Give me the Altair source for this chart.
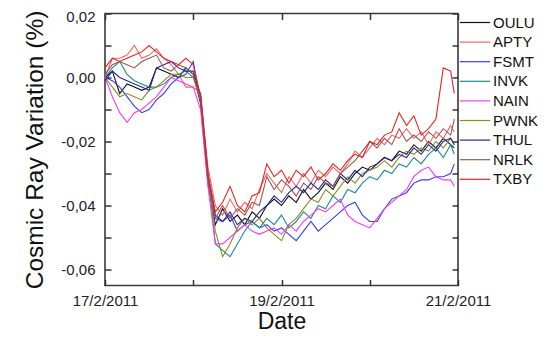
import altair as alt
import pandas as pd

# time of each sample, in hours after 17/2/2011 00:00
hours = [0, 2, 4, 6, 8, 10, 12, 14, 16, 18, 20, 22, 24, 26, 28, 30, 32, 34, 36, 38, 40, 42, 44, 46,
         48, 50, 52, 54, 56, 58, 60, 62, 64, 66, 68, 70, 72, 74, 76, 78, 80, 82, 84, 86, 88, 90, 92, 94, 95]

stations = ["OULU", "APTY", "FSMT", "INVK", "NAIN", "PWNK", "THUL", "NRLK", "TXBY"]
colors = ["#111111", "#f26464", "#3a3af5", "#1f8c8c", "#f53cf5", "#8c8c28", "#25259a", "#9a5656", "#e62424"]

# cosmic ray variation, in thousandths of a percent
OULU = [0, 2, -5, -2, -3, -4, -3, 3, 2, 1, 0, 3, 1, -8, -33, -46, -41, -45, -43, -46, -42, -44, -40, -38,
        -40, -37, -39, -35, -38, -36, -33, -35, -31, -33, -30, -28, -29, -27, -25, -26, -23, -24, -21, -23,
        -20, -22, -19, -21, -22]
APTY = [0, 6, 6, 7, 10, 6, 7, 9, 6, 4, 1, -3, -3, -5, -28, -40, -43, -38, -42, -39, -41, -35, -30, -33,
        -36, -31, -34, -30, -33, -29, -31, -28, -30, -27, -23, -25, -22, -19, -21, -18, -19, -16, -19, -17,
        -21, -17, -19, -15, -17]
FSMT = [0, -1, -3, -6, -9, -11, -10, -7, -5, -2, 0, 1, 5, -8, -32, -44, -45, -43, -48, -46, -45, -47, -46, -48,
        -47, -49, -51, -48, -45, -48, -46, -44, -42, -40, -39, -43, -45, -45, -41, -38, -37, -36, -33, -32,
        -32, -31, -31, -30, -27]
INVK = [0, 3, 5, 1, -1, -2, -3, -3, -2, 0, 1, 2, 0, -5, -30, -52, -54, -56, -52, -48, -45, -47, -44, -46,
        -43, -47, -45, -42, -44, -40, -41, -37, -39, -35, -36, -33, -31, -32, -29, -30, -27, -28, -25, -27,
        -24, -22, -25, -21, -24]
NAIN = [0, -6, -11, -14, -11, -10, -8, -6, -3, 0, -1, -2, -3, -10, -34, -52, -52, -50, -48, -46, -48, -49, -48, -47,
        -49, -46, -48, -45, -43, -41, -42, -40, -38, -43, -45, -46, -47, -44, -41, -39, -37, -35, -31, -29,
        -28, -31, -32, -32, -34]
PWNK = [0, -3, -6, -5, -6, -7, -4, -3, -1, 1, 1, 0, 0, -7, -31, -48, -56, -52, -47, -44, -46, -44, -47, -49,
        -51, -46, -44, -41, -38, -39, -35, -37, -34, -31, -33, -30, -29, -28, -26, -28, -25, -23, -24, -22,
        -23, -20, -22, -19, -21]
THUL = [-1, 2, 0, -1, -2, -3, -4, 3, 4, 5, 3, 2, 2, -6, -31, -43, -45, -42, -46, -44, -45, -42, -40, -37,
        -39, -36, -34, -36, -33, -35, -32, -34, -30, -32, -29, -31, -28, -27, -25, -26, -24, -25, -22, -24,
        -21, -23, -20, -19, -21]
NRLK = [1, 4, 5, 4, 3, 5, 6, 7, 3, 2, 4, 3, 1, -7, -32, -44, -40, -44, -41, -43, -39, -40, -31, -35,
        -32, -34, -37, -33, -35, -31, -33, -34, -30, -28, -26, -23, -20, -22, -19, -21, -16, -20, -18, -20,
        -17, -19, -16, -18, -13]
TXBY = [3, 6, 5, 6, 7, 8, 10, 8, 6, 5, 4, 6, 4, -6, -30, -42, -39, -34, -40, -42, -37, -36, -27, -31,
        -29, -33, -29, -31, -28, -32, -30, -27, -29, -26, -24, -25, -20, -21, -18, -17, -11, -15, -12, -18,
        -16, -13, 3, 2, -5]

y_ticks = [-0.06, -0.05, -0.04, -0.03, -0.02, -0.01, 0.0, 0.01, 0.02]
day_ticks = [17, 18, 19, 20, 21]

all_series = [OULU, APTY, FSMT, INVK, NAIN, PWNK, THUL, NRLK, TXBY]
start = pd.Timestamp("2011-02-17")
rows = []
for k, (name, vals) in enumerate(zip(stations, all_series)):
    for h, v in zip(hours, vals):
        rows.append({
            "date": (start + pd.Timedelta(hours=h)).strftime("%Y-%m-%dT%H:%M:%S"),
            "station": name,
            "order": k,
            "value": v / 1000.0,
        })
df = pd.DataFrame(rows)

FONT = "Liberation Sans"
day_vals = [alt.DateTime(year=2011, month=2, date=d) for d in day_ticks]
x_scale = alt.Scale(domain=[day_vals[0], day_vals[-1]], nice=False)
y_scale = alt.Scale(domain=[-0.065, 0.02], nice=False, zero=False)

y_label_expr = (
    "abs(round(datum.value*100)) % 2 == 0 ? "
    "replace(replace(format(datum.value, '.2f'), '.', ','), '\u2212', '-') : ''"
)
x_label_expr = "date(datum.value) % 2 == 1 ? timeFormat(datum.value, '%-d/%-m/%Y') : ''"

common_axis = dict(offset=-6, tickSize=6, domain=False, grid=False, tickColor="#333333",
                   tickWidth=1.5, labelFont=FONT, labelFontSize=15, labelColor="#222222",
                   labelFlush=False, labelOverlap=False,
                   titleFont=FONT, titleFontWeight="normal", titleColor="#111111")

lines = alt.Chart(df).mark_line(strokeWidth=1.1).encode(
    x=alt.X("date:T", scale=x_scale,
            axis=alt.Axis(orient="bottom", values=day_vals, labelExpr=x_label_expr,
                          labelPadding=8, title="Date", titleFontSize=23, titlePadding=2,
                          **common_axis)),
    y=alt.Y("value:Q", scale=y_scale,
            axis=alt.Axis(orient="left", values=y_ticks, labelExpr=y_label_expr,
                          labelPadding=10, title="Cosmic Ray Variation (%)", titleFontSize=24.5,
                          titlePadding=13,
                          labelOffset={"condition": {"test": "datum.value > 0.015", "value": 2.5},
                                       "value": 0},
                          **common_axis)),
    color=alt.Color("station:N",
                    scale=alt.Scale(domain=stations, range=colors),
                    sort=stations,
                    legend=alt.Legend(title=None, orient="right", offset=7, padding=0,
                                      symbolType="M-1.9,0H1.9", symbolSize=256,
                                      symbolStrokeWidth=1.2, labelFont=FONT, labelFontSize=15,
                                      labelColor="#111111", labelOffset=9, rowPadding=2.6)),
    detail="station:N",
    order="order:Q",
)

mirror = alt.Chart(df).mark_point(opacity=0).encode(
    x=alt.X("date:T", scale=x_scale,
            axis=alt.Axis(orient="top", values=day_vals, labels=False, title=None, **common_axis)),
    y=alt.Y("value:Q", scale=y_scale,
            axis=alt.Axis(orient="right", values=y_ticks, labels=False, title=None, **common_axis)),
)

chart = alt.layer(lines, mirror).resolve_axis(x="independent", y="independent").properties(
    width=353, height=272,
    autosize=alt.AutoSizeParams(type="none"),
    padding={"left": 97, "top": 5.5, "right": 82, "bottom": 47.5},
).configure_view(stroke="#3a3a3a", strokeWidth=1.6)

chart.save("out.html", embed_options={"renderer": "svg", "actions": False})
